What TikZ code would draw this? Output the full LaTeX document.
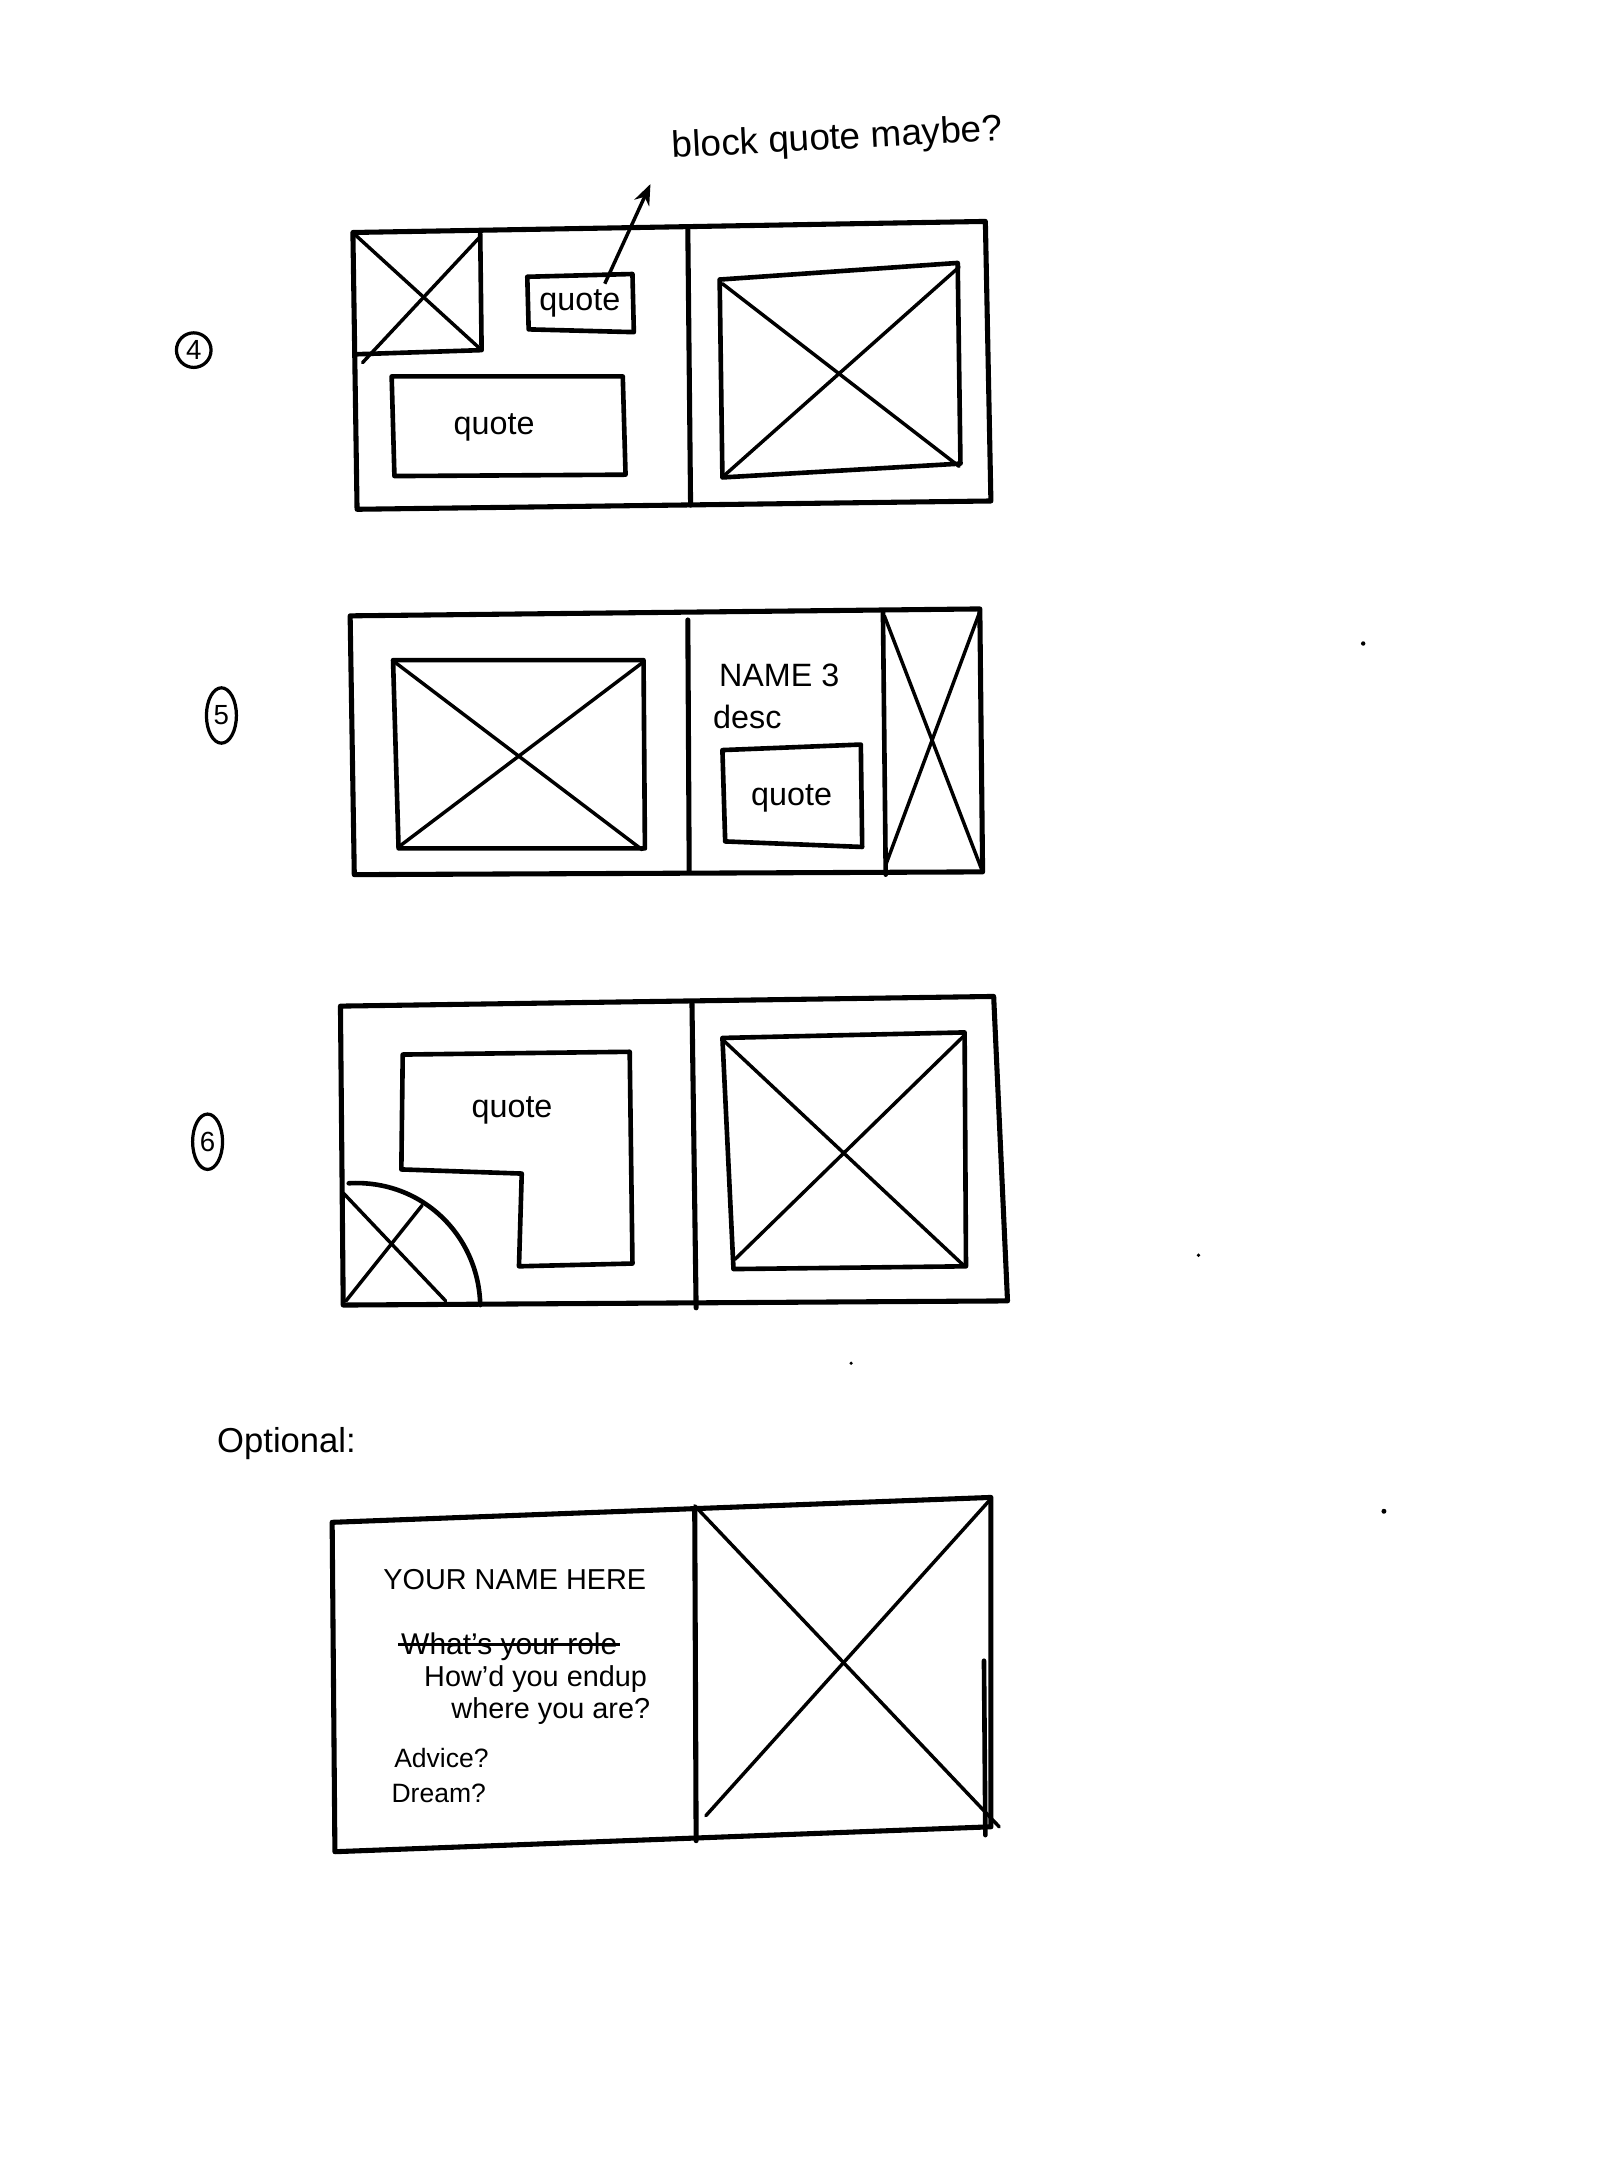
\documentclass[tikz,border=0pt]{standalone}
\usepackage{fontspec}
\setmainfont{Liberation Sans}
\usetikzlibrary{arrows.meta,shapes.geometric}
\begin{document}
\begin{tikzpicture}[x=0.6pt,y=-0.6pt,
  frame/.style={line width=2.2pt, line join=round, line cap=round},
  box/.style={line width=2pt, line join=round, line cap=round},
  xline/.style={line width=1.5pt, line cap=round},
  hand/.style={font=\fontsize{14}{16}\selectfont, inner sep=0pt},
  small/.style={font=\fontsize{12}{14}\selectfont, inner sep=0pt},
  numc/.style={draw, circle, line width=1.4pt, inner sep=0pt, minimum size=15pt, font=\fontsize{12}{13}\selectfont},
  nume/.style={draw, ellipse, line width=1.4pt, inner sep=0pt, minimum width=13pt, minimum height=24pt, font=\fontsize{12}{13}\selectfont},
  speck/.style={fill=black, draw=none}
]
\useasboundingbox (0,0) rectangle (1155,1568);

% ---------- sketch 4 ----------
\node[numc] (n4) at (140,253) {4};
\node[hand, font=\fontsize{16}{18}\selectfont, rotate=3] (bq) at (605,101) {block quote maybe?};
\draw[frame] (255,168) -- (712,160) -- (716,362) -- (258,368) -- cycle;
\draw[frame] (497,166) -- (499,365);
% small image
\draw[box] (257,256) -- (348,253) -- (347,169);
\draw[xline] (262,262) -- (347,171);
\draw[xline] (257,170) -- (348,253);
% small quote
\draw[box] (381,200) -- (457,198) -- (458,240) -- (382,238) -- cycle;
\node[hand] (q1) at (419,219) {quote};
\coordinate (arrs) at (437,205);
\draw[line width=1.5pt, -{Stealth[length=9pt,width=7pt]}] (arrs) -- (470,133);
% large quote
\draw[box] (283,272) -- (450,272) -- (452,343) -- (285,344) -- cycle;
\node[hand] (q2) at (357,309) {quote};
% right image
\draw[box] (520,202) -- (692,190) -- (694,335) -- (522,345) -- cycle;
\draw[xline] (522,205) -- (693,337);
\draw[xline] (693,193) -- (524,343);

% ---------- sketch 5 ----------
\node[nume] (n5) at (160,517) {5};
\draw[frame] (253,445) -- (708,440) -- (710,630) -- (256,632) -- cycle;
\draw[frame] (497,448) -- (498,630);
\draw[box] (638,443) -- (640,632);
\draw[xline] (639,445) -- (710,630);
\draw[xline] (708,442) -- (640,625);
% left image
\draw[box] (284,477) -- (465,477) -- (466,613) -- (288,613) -- cycle;
\draw[xline] (286,479) -- (464,614);
\draw[xline] (464,479) -- (288,612);
\node[hand] (name3) at (563,488) {NAME 3};
\node[hand] (desc) at (540,518) {desc};
\draw[box] (522,542) -- (622,538) -- (623,612) -- (524,608) -- cycle;
\node[hand] (q3) at (572,577) {quote};

% ---------- sketch 6 ----------
\node[nume] (n6) at (150,825) {6};
\draw[frame] (246,727) -- (718,720) -- (728,940) -- (248,943) -- cycle;
\draw[frame] (500,725) -- (503,945);
\draw[box] (291,762) -- (455,760) -- (457,913) -- (375,915) -- (377,848) -- (290,845) -- cycle;
\node[hand] (q4) at (370,802) {quote};
\draw[box] (252,855) .. controls (305,852) and (346,893) .. (347,943);
\draw[xline] (248,862) -- (322,940);
\draw[xline] (250,940) -- (305,871);
\draw[box] (522,750) -- (697,746) -- (698,915) -- (530,917) -- cycle;
\draw[xline] (523,752) -- (697,915);
\draw[xline] (697,748) -- (531,910);

% ---------- optional ----------
\node[hand, font=\fontsize{15}{17}\selectfont] (opt) at (207,1043) {Optional:};
\draw[frame] (240,1100) -- (716,1082) -- (716,1320) -- (242,1338) -- cycle;
\draw[frame] (502,1092) -- (503,1330);
\draw[box] (711,1200) -- (712,1326);
\draw[xline] (502,1088) -- (722,1320);
\draw[xline] (716,1083) -- (510,1312);
\node[hand, font=\fontsize{12.5}{14}\selectfont] (yn) at (372,1141) {YOUR NAME HERE};
\node[small, font=\fontsize{13}{15}\selectfont] (role) at (368,1190) {What's your role};
\draw[line width=1.3pt] ([xshift=-1pt,yshift=1pt]role.west) -- ([xshift=1pt,yshift=1pt]role.east);
\node[small, font=\fontsize{12.5}{14}\selectfont] (how) at (387,1213) {How'd you endup};
\node[small, font=\fontsize{12.5}{14}\selectfont] (where) at (398,1236) {where you are?};
\node[small, font=\fontsize{11.5}{13}\selectfont] (adv) at (319,1270) {Advice?};
\node[small, font=\fontsize{11.5}{13}\selectfont] (dream) at (317,1296) {Dream?};

% specks
\fill[speck] (985,465) circle (1.6);
\fill[speck] (866,907) circle (1.3);
\fill[speck] (615,985) circle (1.3);
\fill[speck] (1000,1092) circle (1.8);
\end{tikzpicture}
\end{document}
